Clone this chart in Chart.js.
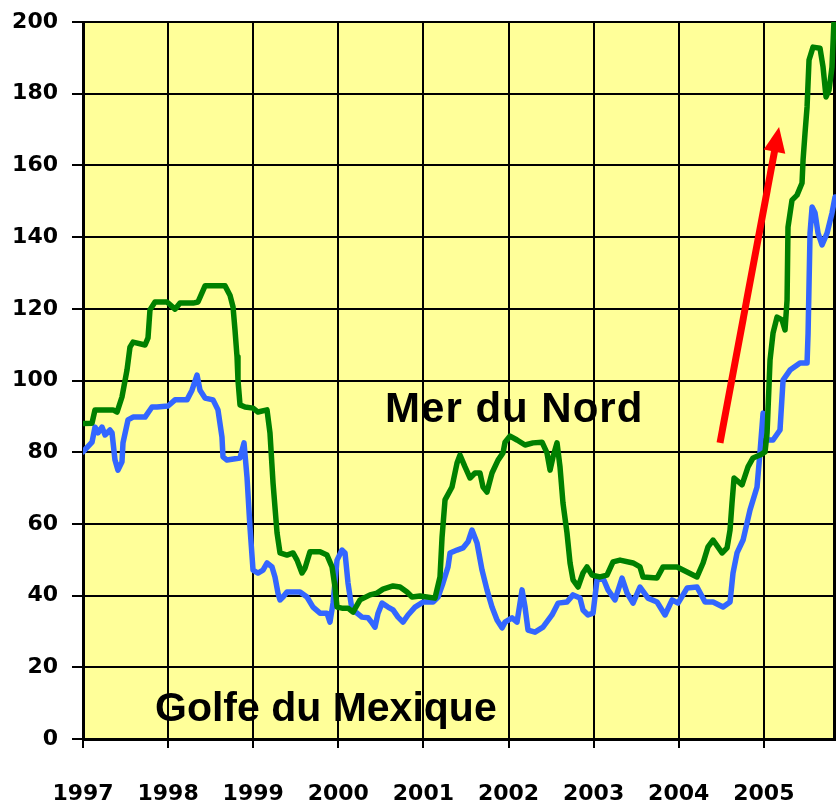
<!DOCTYPE html>
<html><head><meta charset="utf-8">
<script src="https://cdn.jsdelivr.net/npm/chart.js@4.4.0/dist/chart.umd.min.js"></script>
<style>html,body{margin:0;padding:0;background:#fff;overflow:hidden}#wrap{width:836px;height:809px;position:relative}</style>
</head><body><div id="wrap"><canvas id="c" width="836" height="809"></canvas></div>
<script>
// Tick labels
const yearTicks = [1997, 1998, 1999, 2000, 2001, 2002, 2003, 2004, 2005];
const valueTicks = [0, 20, 40, 60, 80, 100, 120, 140, 160, 180, 200];

// Annotation texts
const labelNorth = 'Mer du Nord';
const labelGulf = 'Golfe du Mexique';

// Green series (decimal year, value)
const greenYears = [1997.0,1997.106,1997.141,1997.353,1997.40,1997.458,1997.517,1997.552,1997.588,1997.729,
1997.764,1997.787,1997.846,1997.987,1998.081,1998.140,1998.293,1998.351,1998.434,1998.669,
1998.727,1998.763,1998.786,1998.810,1998.821,1998.845,1998.904,1998.998,1999.056,1999.162,
1999.197,1999.233,1999.280,1999.315,1999.397,1999.468,1999.515,1999.573,1999.609,1999.667,
1999.785,1999.867,1999.926,1999.961,1999.985,2000.043,2000.114,2000.173,2000.255,2000.373,
2000.455,2000.525,2000.643,2000.725,2000.807,2000.866,2000.960,2001.136,2001.195,2001.219,
2001.254,2001.336,2001.395,2001.430,2001.489,2001.548,2001.606,2001.665,2001.700,2001.747,
2001.806,2001.877,2001.935,2001.959,2002.018,2002.100,2002.194,2002.288,2002.394,2002.452,
2002.488,2002.523,2002.570,2002.605,2002.640,2002.687,2002.723,2002.758,2002.817,2002.875,
2002.922,2002.981,2003.075,2003.157,2003.228,2003.310,2003.463,2003.545,2003.580,2003.745,
2003.816,2003.981,2004.098,2004.215,2004.286,2004.344,2004.403,2004.509,2004.568,2004.603,
2004.626,2004.650,2004.744,2004.814,2004.873,2004.955,2005.014,2005.038,2005.073,2005.108,
2005.155,2005.214,2005.249,2005.273,2005.284,2005.331,2005.390,2005.449,2005.461,2005.484,
2005.508,2005.531,2005.578,2005.660,2005.696,2005.731,2005.766,2005.801,2005.825];
const greenValues = [88,88.1,91.8,91.8,91.2,95.4,102.9,109.3,110.7,109.9,
111.9,119.7,121.9,121.9,119.9,121.6,121.6,121.9,126.4,126.4,
123.8,120.5,114.1,106.6,100.1,93.2,92.6,92.3,91.2,91.8,
85.4,71.4,57.5,51.9,51.3,51.9,49.9,46.3,47.7,52.2,
52.2,51.3,48.0,42.4,36.8,36.5,36.5,35.4,38.8,40.2,
40.7,41.8,42.7,42.4,41.0,39.6,39.9,39.3,45.2,56.3,
66.7,70.3,77.0,79.2,75.9,72.8,74.2,74.2,70.3,68.9,
74.2,77.8,79.8,82.8,84.5,83.4,82.0,82.6,82.8,79.8,
75.0,78.7,82.6,75.9,65.8,57.5,49.1,44.4,42.4,46.3,
48.0,45.7,45.2,45.7,49.4,49.9,49.1,48.0,45.2,44.9,
48.0,48.0,46.6,45.2,49.1,53.6,55.5,51.9,53.3,58.3,
65.8,72.8,70.9,75.9,78.4,79.2,80.1,85.4,105.7,113.2,
117.7,116.9,114.1,122.5,142.8,150.3,151.7,155.1,161.5,169.0,
176.3,189.4,193.0,192.7,187.4,179.1,181.0,187.4,200.6];

// Blue series (decimal year, value)
const blueYears = [1997.0,1997.106,1997.141,1997.176,1997.223,1997.259,1997.317,1997.341,1997.376,1997.411,
1997.458,1997.470,1997.529,1997.588,1997.729,1997.811,1997.870,1997.999,1998.081,1998.222,
1998.281,1998.340,1998.375,1998.434,1998.528,1998.586,1998.633,1998.645,1998.692,1998.845,
1998.892,1998.927,1998.962,1998.998,1999.056,1999.115,1999.162,1999.221,1999.256,1999.291,
1999.315,1999.350,1999.397,1999.550,1999.632,1999.703,1999.785,1999.867,1999.902,1999.938,
1999.985,2000.043,2000.079,2000.114,2000.161,2000.220,2000.278,2000.349,2000.396,2000.431,
2000.467,2000.514,2000.584,2000.643,2000.702,2000.760,2000.819,2000.901,2000.995,2001.113,
2001.172,2001.230,2001.289,2001.313,2001.395,2001.465,2001.524,2001.571,2001.630,2001.689,
2001.747,2001.806,2001.865,2001.924,2001.959,2002.041,2002.100,2002.159,2002.194,2002.229,
2002.311,2002.405,2002.511,2002.582,2002.687,2002.758,2002.840,2002.875,2002.934,2002.993,
2003.040,2003.110,2003.169,2003.251,2003.334,2003.393,2003.463,2003.545,2003.639,2003.745,
2003.839,2003.922,2003.992,2004.098,2004.215,2004.309,2004.403,2004.521,2004.603,2004.638,
2004.685,2004.756,2004.838,2004.920,2004.955,2004.991,2005.038,2005.108,2005.190,2005.226,
2005.308,2005.425,2005.508,2005.520,2005.543,2005.567,2005.602,2005.637,2005.684,2005.743,
2005.801,2005.837];
const blueValues = [80.1,82.8,87.0,85.4,87.0,84.8,86.2,85.4,77.8,75.0,
77.3,82.6,89.0,89.8,89.8,92.6,92.6,92.9,94.6,94.6,
97.3,101.5,97.3,95.1,94.6,91.8,84.2,78.7,77.8,78.4,
82.6,73.1,59.1,47.1,46.3,47.1,49.1,48.0,45.2,40.7,
38.8,39.6,41.0,41.0,39.6,36.8,35.1,35.1,32.6,37.9,
49.9,52.7,51.9,43.5,36.0,35.1,34.0,33.8,32.4,31.2,
35.1,37.9,36.8,36.0,34.0,32.6,34.6,36.8,38.2,38.2,
39.6,43.5,48.0,51.9,52.7,53.3,55.0,58.3,54.7,47.1,
41.6,36.8,33.2,31.0,32.6,33.8,32.6,41.6,36.8,30.4,
29.8,31.2,34.6,37.9,38.2,40.2,39.3,36.0,34.6,35.1,
44.4,44.9,41.6,38.8,44.9,40.7,37.9,42.4,39.3,38.2,
34.6,38.8,37.9,42.1,42.4,38.2,38.2,36.8,38.2,46.3,
51.9,55.5,63.9,70.3,80.0,90.9,83.4,83.4,86.2,100.1,
102.9,104.9,104.9,113.2,141.1,148.4,146.7,141.1,137.8,141.1,
146.7,151.2];

// Arrow (start/end in data units) and text anchors
const arrowFrom = {x: 2004.485, y: 82.6};
const arrowTo = {x: 2005.179, y: 170.7};
const northAnchor = {x: 2000.549, y: 88.4};
const gulfAnchor = {x: 1997.846, y: 5.0};

const pts = (xs, ys) => xs.map((x, i) => ({x, y: ys[i]}));

const decor = {
  id: 'decor',
  beforeDraw(chart) {
    const {ctx, chartArea: a} = chart;
    ctx.save();
    ctx.fillStyle = '#FFFF99';
    ctx.fillRect(a.left, a.top, a.right - a.left, a.bottom - a.top);
    ctx.restore();
  },
  beforeDatasetsDraw(chart) {
    const {ctx, chartArea: a} = chart;
    ctx.save();
    ctx.strokeStyle = '#000';
    ctx.lineWidth = 3;
    ctx.beginPath();
    ctx.moveTo(a.right - 1.5, a.top);
    ctx.lineTo(a.right - 1.5, a.bottom);
    ctx.stroke();
    ctx.restore();
  },
  afterDatasetsDraw(chart) {
    const {ctx} = chart;
    const xs = chart.scales.x, ys = chart.scales.y;
    ctx.save();
    ctx.fillStyle = '#000';
    ctx.textBaseline = 'alphabetic';
    ctx.textAlign = 'left';
    ctx.font = 'bold 42px "Liberation Sans", Arial, sans-serif';
    if ('letterSpacing' in ctx) ctx.letterSpacing = '1px';
    ctx.fillText(labelNorth, xs.getPixelForValue(northAnchor.x), ys.getPixelForValue(northAnchor.y));
    if ('letterSpacing' in ctx) ctx.letterSpacing = '0px';
    ctx.font = 'bold 41px "Liberation Sans", Arial, sans-serif';
    ctx.fillText(labelGulf, xs.getPixelForValue(gulfAnchor.x), ys.getPixelForValue(gulfAnchor.y));
    // arrow
    const x0 = xs.getPixelForValue(arrowFrom.x), y0 = ys.getPixelForValue(arrowFrom.y);
    const x1 = xs.getPixelForValue(arrowTo.x), y1 = ys.getPixelForValue(arrowTo.y);
    const dx = x1 - x0, dy = y1 - y0, len = Math.hypot(dx, dy);
    const ux = dx / len, uy = dy / len, nx = -uy, ny = ux;
    const headLen = 25, headHalf = 11;
    const bx = x1 - ux * headLen, by = y1 - uy * headLen;
    ctx.strokeStyle = '#FF0000';
    ctx.fillStyle = '#FF0000';
    ctx.lineWidth = 7;
    ctx.lineCap = 'butt';
    ctx.beginPath();
    ctx.moveTo(x0, y0);
    ctx.lineTo(bx + ux * 2, by + uy * 2);
    ctx.stroke();
    ctx.beginPath();
    ctx.moveTo(x1, y1);
    ctx.lineTo(bx + nx * headHalf, by + ny * headHalf);
    ctx.lineTo(bx - nx * headHalf, by - ny * headHalf);
    ctx.closePath();
    ctx.fill();
    ctx.restore();
  }
};

const tickFont = {family: '"DejaVu Sans", Verdana, sans-serif', weight: 'bold', size: 22};

new Chart(document.getElementById('c'), {
  type: 'line',
  data: {
    datasets: [
      {label: labelNorth, data: pts(greenYears, greenValues), borderColor: '#008000', borderWidth: 5.5, pointRadius: 0, tension: 0, fill: false, borderJoinStyle: 'round', borderCapStyle: 'round'},
      {label: labelGulf, data: pts(blueYears, blueValues), borderColor: '#3366FF', borderWidth: 5.5, pointRadius: 0, tension: 0, fill: false, borderJoinStyle: 'round', borderCapStyle: 'round'}
    ]
  },
  options: {
    responsive: false,
    animation: false,
    devicePixelRatio: 1,
    layout: {padding: {top: 22, right: 0, bottom: 0, left: 0}},
    plugins: {legend: {display: false}, tooltip: {enabled: false}},
    scales: {
      x: {
        type: 'linear', min: 1997, max: 2005.848,
        afterBuildTicks: s => { s.ticks = yearTicks.map(v => ({value: v})); },
        afterFit: s => { s.height = 70; s.paddingLeft = 0; s.paddingRight = 0; },
        ticks: {callback: v => String(v), font: tickFont, color: '#000', padding: 33, maxRotation: 0, autoSkip: false},
        grid: {color: '#000', lineWidth: 2, tickLength: 9, drawTicks: true},
        border: {display: true, color: '#000', width: 3}
      },
      y: {
        type: 'linear', min: 0, max: 200,
        afterBuildTicks: s => { s.ticks = valueTicks.map(v => ({value: v})); },
        afterFit: s => { s.width = 83; s.paddingTop = 0; s.paddingBottom = 0; },
        ticks: {callback: v => String(v), font: tickFont, color: '#000', padding: 14, autoSkip: false},
        grid: {color: '#000', lineWidth: 2, tickLength: 11, drawTicks: true},
        border: {display: true, color: '#000', width: 3}
      }
    }
  },
  plugins: [decor]
});
</script>
</body></html>
